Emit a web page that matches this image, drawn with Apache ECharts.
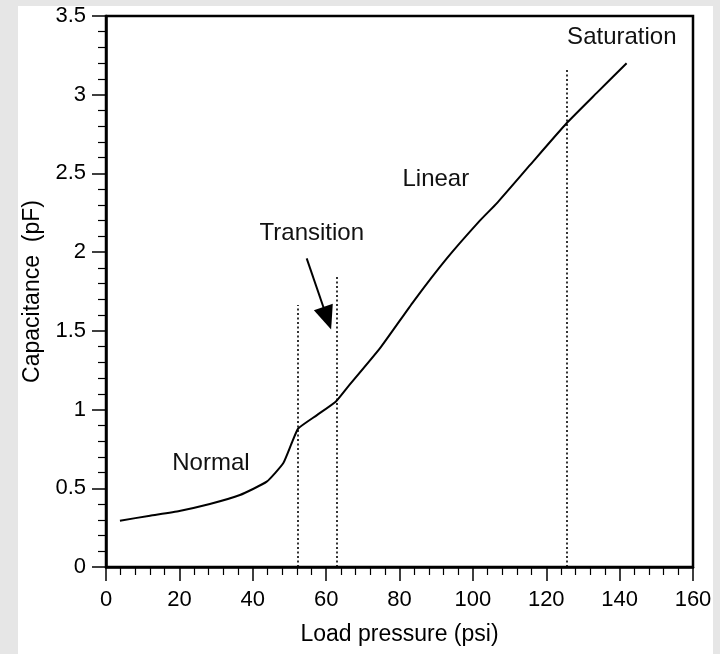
<!DOCTYPE html>
<html>
<head>
<meta charset="utf-8">
<script src="https://cdn.jsdelivr.net/npm/echarts@6/dist/echarts.min.js"></script>
<style>
  html, body { margin: 0; padding: 0; background: #e6e6e6; }
  #chart { position: absolute; left: 18px; top: 6px; width: 695px; height: 648px; background: #fff; }
</style>
</head>
<body>
<div id="chart"></div>
<script>
// load pressure (psi) vs capacitance (pF)
const pressure = [3.8, 12, 20, 28.3, 36.5, 43.8, 48.3, 50.6, 52.4, 57.5, 62.6, 65.6, 74.7, 83.8, 92.9, 101.9, 106.5, 115.6, 125.6, 133.7, 141.9]
const capacitance = [0.294, 0.326, 0.356, 0.40, 0.457, 0.542, 0.659, 0.786, 0.88, 0.965, 1.05, 1.135, 1.39, 1.686, 1.96, 2.20, 2.31, 2.554, 2.82, 3.01, 3.20]

// region boundaries (dotted verticals)
const boundaryX = [52.3, 62.9, 125.6]
const boundaryTop = [1.665, 1.855, 3.17]

// region labels
const annotText = ['Normal', 'Transition', 'Linear', 'Saturation']
const annotX = [28.6, 56.1, 89.9, 140.6]
const annotY = [0.66, 2.12, 2.465, 3.367]

// arrow pointing at the transition region
const arrowFrom = [54.7, 1.96]
const arrowTo = [60.3, 1.58]

const xTicks = { min: 0, max: 160, interval: 20 }
const yTicks = { min: 0, max: 3.5, interval: 0.5 }

const ink = '#000'
const font = 'Liberation Sans, Arial, sans-serif'

const myChart = echarts.init(document.getElementById('chart'))

const axisCommon = {
  type: 'value',
  nameLocation: 'middle',
  nameTextStyle: { fontSize: 23, color: ink, fontFamily: font },
  axisLine: { show: true, onZero: false, lineStyle: { color: ink, width: 2.5 } },
  axisTick: { show: true, inside: false, length: 14, lineStyle: { color: ink, width: 1.5 } },
  minorTick: { show: true, splitNumber: 5, length: 8, lineStyle: { color: ink, width: 1.2 } },
  splitLine: { show: false },
  minorSplitLine: { show: false }
}

const option = {
  animation: false,
  backgroundColor: '#fff',
  grid: {
    left: 88,
    top: 10,
    width: 587,
    height: 551,
    containLabel: false,
    outerBoundsMode: 'none',
    show: true,
    borderColor: ink,
    borderWidth: 2.5,
    backgroundColor: 'transparent'
  },
  xAxis: Object.assign({}, axisCommon, {
    min: xTicks.min,
    max: xTicks.max,
    interval: xTicks.interval,
    name: 'Load pressure (psi)',
    nameGap: 56,
    axisLabel: { fontSize: 22, color: ink, fontFamily: font, margin: 22 }
  }),
  yAxis: Object.assign({}, axisCommon, {
    min: yTicks.min,
    max: yTicks.max,
    interval: yTicks.interval,
    name: 'Capacitance  (pF)',
    nameGap: 62,
    axisLabel: { fontSize: 22, color: ink, fontFamily: font, margin: 20 }
  }),
  series: [
    {
      name: 'capacitance',
      type: 'line',
      showSymbol: false,
      symbol: 'none',
      smooth: 0.15,
      z: 4,
      lineStyle: { color: ink, width: 2 },
      data: pressure.map((p, i) => [p, capacitance[i]])
    },
    {
      name: 'boundaries',
      type: 'line',
      data: [],
      markLine: {
        silent: true,
        symbol: 'none',
        label: { show: false },
        lineStyle: { color: ink, width: 1.6, type: [2, 2.5], opacity: 1 },
        data: boundaryX.map((x, i) => [{ coord: [x, 0] }, { coord: [x, boundaryTop[i]] }])
      }
    },
    {
      name: 'arrow',
      type: 'line',
      data: [],
      markLine: {
        silent: true,
        symbol: ['none', 'triangle'],
        symbolSize: [20, 24],
        label: { show: false },
        lineStyle: { color: ink, width: 2, type: 'solid', opacity: 1 },
        itemStyle: { color: ink },
        data: [[{ coord: arrowFrom }, { coord: arrowTo }]]
      }
    },
    {
      name: 'labels',
      type: 'scatter',
      symbolSize: 1,
      itemStyle: { color: 'rgba(0,0,0,0)', opacity: 1 },
      label: {
        show: true,
        position: 'inside',
        fontSize: 24,
        color: '#111',
        opacity: 1,
        fontFamily: font,
        formatter: function (p) { return annotText[p.dataIndex] }
      },
      data: annotX.map((x, i) => [x, annotY[i]])
    }
  ]
}

myChart.setOption(option)
</script>
</body>
</html>
